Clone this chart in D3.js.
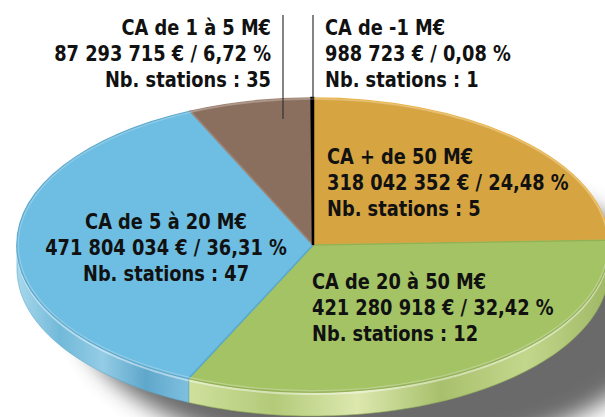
<!DOCTYPE html>
<html>
<head>
<meta charset="utf-8">
<script src="https://cdn.jsdelivr.net/npm/d3@7"></script>
<style>
  html, body { margin: 0; padding: 0; background: #ffffff; }
  svg { display: block; }
  text { font-family: "DejaVu Sans Condensed", "DejaVu Sans", sans-serif; font-stretch: condensed; font-weight: bold; fill: #111; }
</style>
</head>
<body>
<div id="chart"></div>
<script>
// ---- data ----
const categories = ["CA + de 50 M€", "CA de 20 à 50 M€", "CA de 5 à 20 M€", "CA de 1 à 5 M€", "CA de -1 M€"];
const amounts    = [318042352, 421280918, 471804034, 87293715, 988723];
const percents   = [24.48, 32.42, 36.31, 6.72, 0.08];
const stations   = [5, 12, 47, 35, 1];

// ---- style ----
const topColors  = ["#d6a542", "#a4c365", "#6dbee2", "#8b6f5e", "#111111"];
const edgeColors = ["#e9b44c", "#93b257", "#5aa9cf", "#a08474", "#000000"];
const sideStops  = [
  ["#c8953a", "#d9a84a", "#b9882f", "#cf9e42"],
  ["#cfe09c", "#b3ca79", "#dce8ae", "#a8c06c", "#c3d78c", "#9fb865"],
  ["#a8d8ec", "#72b9d9", "#93cce5", "#5fa7cb", "#7fc0df"],
  ["#7b604f", "#8e7262"],
  ["#000000", "#000000"]
];

const W = 605, H = 417;
const cx = 313, cy = 245, rx = 296, ry = 147, depth = 24;
const lineH = 26;
const fontSize = 22, squeeze = 0.9;
const labelLayout = [
  { x: 327, y: 164, anchor: "start" },
  { x: 312, y: 289, anchor: "start" },
  { x: 166, y: 229, anchor: "middle" },
  { x: 271, y: 35,  anchor: "end" },
  { x: 325, y: 35,  anchor: "start" }
];
const leaders = [
  { cat: 3, x: 283, y1: 15, y2: 119 },
  { cat: 4, x: 313, y1: 15, y2: 100 }
];

const fr = d3.formatLocale({ decimal: ",", thousands: " ", grouping: [3], currency: ["", " €"] });
const fmtAmount = fr.format(",.0f");
const fmtPct = fr.format(".2f");

const svg = d3.select("#chart").append("svg").attr("width", W).attr("height", H);
svg.append("rect").attr("width", W).attr("height", H).attr("fill", "#fff");

const defs = svg.append("defs");
const blur = defs.append("filter").attr("id", "shadow").attr("x", "-20%").attr("y", "-20%").attr("width", "140%").attr("height", "140%");
blur.append("feGaussianBlur").attr("stdDeviation", 11);

sideStops.forEach((stops, i) => {
  const g = defs.append("linearGradient").attr("id", "side" + i)
    .attr("x1", "0%").attr("x2", "100%").attr("y1", "0%").attr("y2", "0%");
  stops.forEach((c, j) => g.append("stop").attr("offset", (j / (stops.length - 1) * 100) + "%").attr("stop-color", c));
});

// shadow
svg.append("ellipse")
  .attr("cx", cx + 60).attr("cy", cy + 40 + depth)
  .attr("rx", rx).attr("ry", ry)
  .attr("fill", "#5a5a5a").attr("opacity", 0.9)
  .attr("filter", "url(#shadow)");

const pie = d3.pie().sort(null).value(d => d).startAngle(0).endAngle(2 * Math.PI);
const arcs = pie(amounts);

// ellipse projection (angle 0 = top, clockwise)
const px = t => cx + rx * Math.sin(t);
const py = t => cy - ry * Math.cos(t);

// side walls (front half only: angles between PI/2 and 3PI/2)
const sideG = svg.append("g");
arcs.forEach((a, i) => {
  const s = Math.max(a.startAngle, Math.PI / 2);
  const e = Math.min(a.endAngle, 3 * Math.PI / 2);
  if (e <= s) return;
  const n = 80;
  const ts = d3.range(n + 1).map(k => s + (e - s) * k / n);
  const topPts = ts.map(t => [px(t), py(t)]);
  const botPts = ts.slice().reverse().map(t => [px(t), py(t) + depth]);
  const pts = topPts.concat(botPts);
  sideG.append("path")
    .attr("d", d3.line()(pts) + "Z")
    .attr("fill", "url(#side" + i + ")")
    .attr("stroke", edgeColors[i]).attr("stroke-width", 0.6);
  sideG.append("path")
    .attr("d", d3.line()(topPts.map(p => [p[0], p[1] + 2])))
    .attr("fill", "none").attr("stroke", "#ffffff").attr("stroke-opacity", 0.45).attr("stroke-width", 2);
});

// top faces
const arc = d3.arc().innerRadius(0).outerRadius(rx);
const topG = svg.append("g").attr("transform", `translate(${cx},${cy}) scale(1,${ry / rx})`);
topG.selectAll("path").data(arcs).join("path")
  .attr("d", arc)
  .attr("fill", (d, i) => topColors[i])
  .attr("stroke", (d, i) => i === 4 ? "#000" : edgeColors[i])
  .attr("stroke-width", (d, i) => i === 4 ? 2.5 : 1.6)
  .attr("vector-effect", "non-scaling-stroke");

// outer rim highlight
svg.append("ellipse").attr("cx", cx).attr("cy", cy).attr("rx", rx - 1).attr("ry", ry - 1)
  .attr("fill", "none").attr("stroke", "#ffffff").attr("stroke-opacity", 0.25).attr("stroke-width", 1.5);

// leader lines
svg.append("g").selectAll("line").data(leaders).join("line")
  .attr("x1", d => d.x).attr("x2", d => d.x)
  .attr("y1", d => d.y1).attr("y2", d => d.y2)
  .attr("stroke", "#333").attr("stroke-width", 1.2);

// labels
const labelG = svg.append("g");
categories.forEach((c, i) => {
  const L = labelLayout[i];
  const lines = [c, fmtAmount(amounts[i]) + " € / " + fmtPct(percents[i]) + " %", "Nb. stations : " + stations[i]];
  const t = labelG.append("text")
    .attr("transform", `translate(${L.x},${L.y}) scale(${squeeze},1)`)
    .attr("text-anchor", L.anchor).attr("font-size", fontSize);
  lines.forEach((ln, j) => t.append("tspan").attr("x", 0).attr("y", j * lineH).text(ln));
});
</script>
</body>
</html>
